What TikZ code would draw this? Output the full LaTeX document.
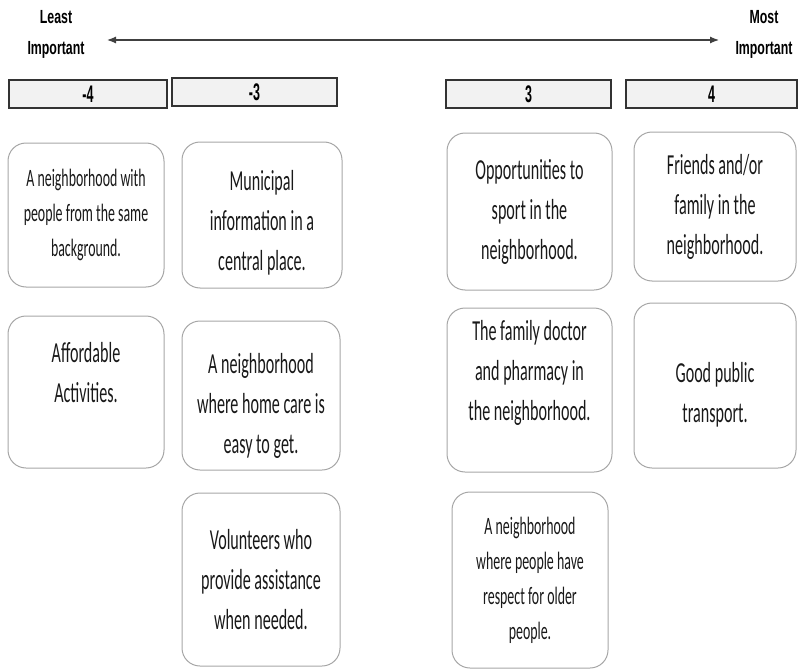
\documentclass[tikz,border=0pt]{standalone}
\usepackage{fontspec}
\setmainfont{Carlito}
\newfontfamily\cardfont[FakeStretch=0.555]{Carlito}
\newfontfamily\headfont[FakeStretch=0.65]{Liberation Sans}
\newfontfamily\rankfont[FakeStretch=0.52]{Liberation Sans}
\usetikzlibrary{arrows.meta}

\begin{document}
\begin{tikzpicture}[x=1pt, y=-1pt, card/.style={draw=black!35, line width=1pt, rounded corners=18pt, align=center, text=black!90, font=\cardfont\fontsize{29}{40}\selectfont}, smallcard/.style={card, font=\cardfont\fontsize{25}{35}\selectfont}, rank/.style={draw=black!80, fill=gray!10, line width=1.2pt, minimum height=28, inner sep=0pt, font=\rankfont\bfseries\fontsize{24}{24}\selectfont}, endlabel/.style={align=center, font=\headfont\bfseries\fontsize{19}{31.7}\selectfont}]
\useasboundingbox (0,0) rectangle (798,669);
\node[endlabel] (least) at (56,34.5) {Least\\Important};
\node[endlabel] (most) at (764,34.5) {Most\\Important};
\coordinate (lefttip) at (107,40);
\coordinate (righttip) at (719,40);
\draw[{Latex[length=9pt,width=7pt]}-{Latex[length=9pt,width=7pt]}, line width=1.2pt, black!75] (lefttip) -- (righttip);
\foreach \name/\x/\y/\w/\lab in {m4/88/94/158/-4, m3/254.5/92/165/-3, p3/528.5/94/165/3, p4/711.5/94/171/4}{\node[rank, minimum width=\w] (\name) at (\x,\y) {\lab};}
% -4
\node[smallcard, minimum width=156, minimum height=144] (m4a) at (86,215) {A neighborhood with\\people from the same\\background.};
\node[card, minimum width=156, minimum height=152] (m4b) at (86,392) {Affordable\\Activities.\\\mbox{}};
% -3
\node[card, minimum width=160, minimum height=146] (m3a) at (262,215) {\rule{0pt}{36.5pt}Municipal\\information in a\\central place.};
\node[card, minimum width=158, minimum height=149] (m3b) at (261,395.5) {\rule{0pt}{40pt}A neighborhood\\where home care is\\easy to get.};
\node[card, minimum width=158, minimum height=173] (m3c) at (261,579.5) {Volunteers who\\provide assistance\\when needed.};
% 3
\node[card, minimum width=165, minimum height=157] (p3a) at (529.5,211.5) {Opportunities to\\sport in the\\neighborhood.};
\node[card, minimum width=165, minimum height=164] (p3b) at (529.5,390) {The family doctor\\and pharmacy in\\the neighborhood.\\\mbox{}};
\node[smallcard, minimum width=156, minimum height=176] (p3c) at (530,580) {A neighborhood\\where people have\\respect for older\\people.};
% 4
\node[card, minimum width=162, minimum height=149] (p4a) at (715,206.5) {Friends and/or\\family in the\\neighborhood.};
\node[card, minimum width=162, minimum height=165] (p4b) at (715,385.5) {\rule{0pt}{38.5pt}Good public\\transport.};
\end{tikzpicture}
\end{document}
